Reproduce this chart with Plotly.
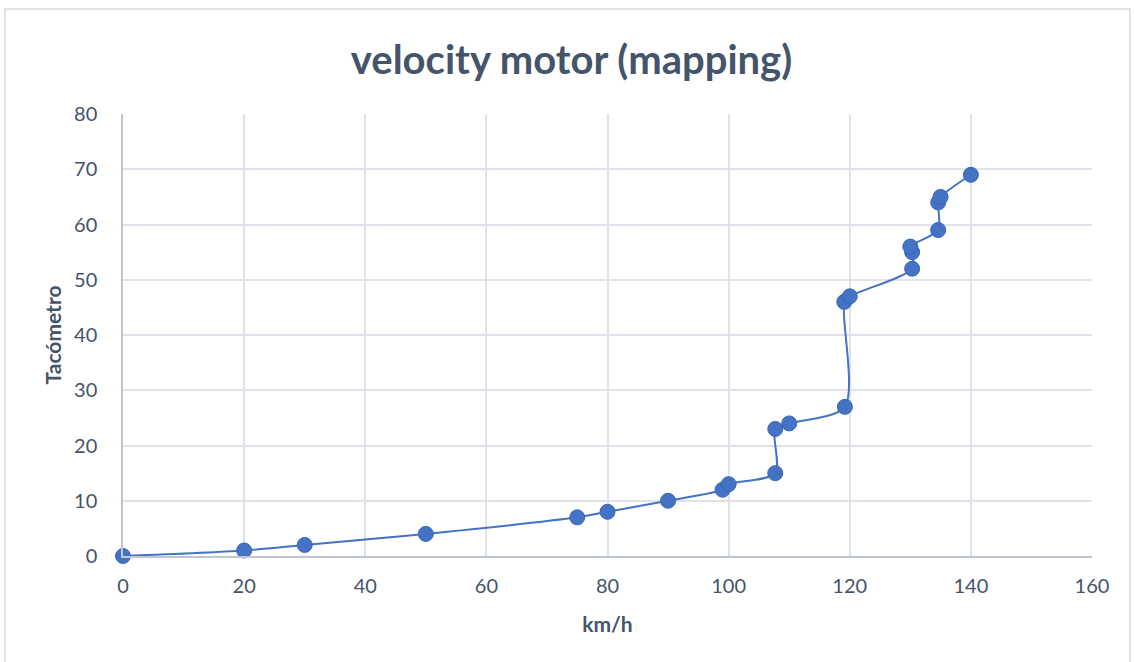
import plotly.graph_objects as go

km_h = [0, 20, 30, 50, 75, 80, 90, 99, 100, 107.7, 107.7, 110, 119.2, 119.1, 120, 130.3, 130.3, 130, 134.6, 134.6, 135, 140]
tacometro = [0, 1, 2, 4, 7, 8, 10, 12, 13, 15, 23, 24, 27, 46, 47, 52, 55, 56, 59, 64, 65, 69]

x_ticks = [0, 20, 40, 60, 80, 100, 120, 140, 160]
y_ticks = [0, 10, 20, 30, 40, 50, 60, 70, 80]

W, H = 1134, 662
ml, mr, mt, mb = 123, 42, 114, 106
pw, ph = W - ml - mr, H - mt - mb

def px(xp):
    return (xp - ml) / pw

def py(yp):
    return (H - mb - yp) / ph

color = "#4472C4"
text_col = "#44546A"
grid_col = "#DEE3EA"

fig = go.Figure()
fig.add_trace(go.Scatter(
    x=km_h, y=tacometro, mode="lines+markers",
    line=dict(color=color, width=2, shape="spline", smoothing=0.8),
    marker=dict(color=color, size=15, line=dict(color="#3A66B5", width=1)),
    showlegend=False, cliponaxis=False,
))

fig.update_layout(
    width=W, height=H,
    margin=dict(l=ml, r=mr, t=mt, b=mb),
    paper_bgcolor="white", plot_bgcolor="white",
    font=dict(family="Lato, Open Sans, sans-serif", color=text_col, size=20),
    title=dict(text="<b>velocity motor (mapping)</b>", x=0.504, xanchor="center",
               y=1 - 60 / H, yanchor="middle",
               font=dict(size=40, color=text_col)),
    xaxis=dict(range=[0, 160], tickvals=x_ticks, showgrid=True, gridcolor=grid_col,
               gridwidth=1.5, zeroline=False, showline=True, linecolor="#BFC6D1", linewidth=1.5,
               ticks="", ticklen=0, ticklabelstandoff=11,
               title=dict(text="<b>km/h</b>", font=dict(size=21, color=text_col), standoff=22)),
    yaxis=dict(range=[0, 80], tickvals=y_ticks, showgrid=True, gridcolor=grid_col,
               gridwidth=1.5, zeroline=False, showline=True, linecolor="#BFC6D1", linewidth=1.5,
               ticks="", ticklen=0, ticklabelstandoff=20,
               title=dict(text="<b>Tacómetro</b>", font=dict(size=21, color=text_col), standoff=7)),
    shapes=[dict(type="rect", xref="paper", yref="paper",
                 x0=px(5), x1=px(1130), y0=py(700), y1=py(9),
                 line=dict(color="#D9D9D9", width=1.5), fillcolor="rgba(0,0,0,0)", layer="below")],
)

fig.write_html("out.html")
